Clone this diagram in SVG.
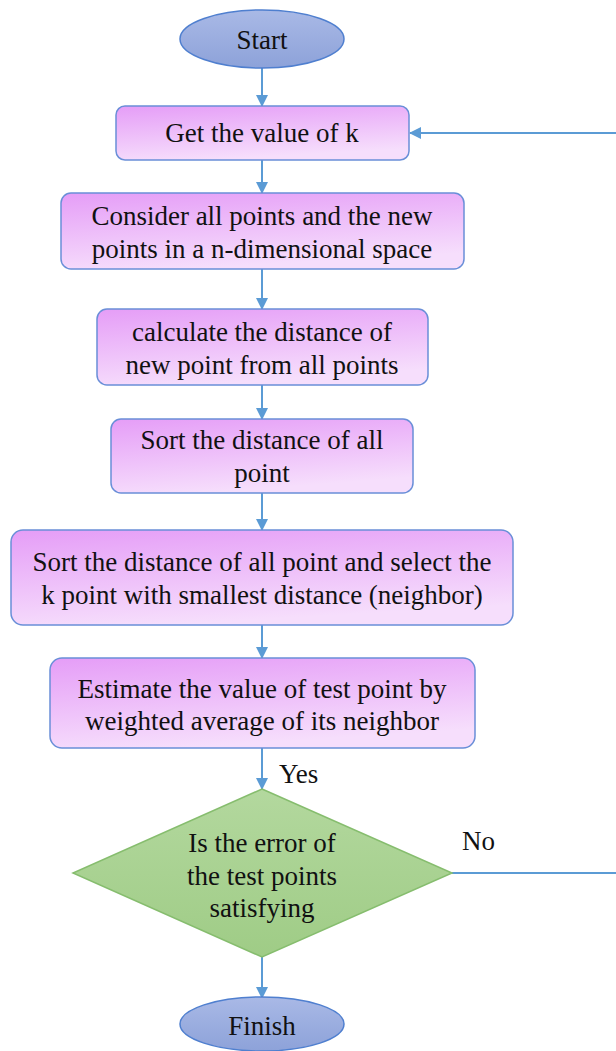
<svg xmlns="http://www.w3.org/2000/svg" width="616" height="1051" viewBox="0 0 616 1051">
<defs>
<linearGradient id="gBox" x1="0" y1="0" x2="0.3" y2="1">
<stop offset="0" stop-color="#e59df7"/>
<stop offset="1" stop-color="#f6defc"/>
</linearGradient>
<linearGradient id="gEll" x1="0" y1="0" x2="0" y2="1">
<stop offset="0" stop-color="#a9b9e6"/>
<stop offset="1" stop-color="#8da2d9"/>
</linearGradient>
<linearGradient id="gDia" x1="0" y1="0" x2="0" y2="1">
<stop offset="0" stop-color="#b3d89e"/>
<stop offset="1" stop-color="#9fcc86"/>
</linearGradient>
<marker id="arr" markerWidth="12" markerHeight="12" refX="11" refY="6" orient="auto" markerUnits="userSpaceOnUse">
<path d="M0,0 L12,6 L0,12 z" fill="#5b9bd5"/>
</marker>
</defs>
<style>
.box{fill:url(#gBox);stroke:#6a8fd8;stroke-width:1.5}
.ell{fill:url(#gEll);stroke:#4f7fcf;stroke-width:1.5}
.dia{fill:url(#gDia);stroke:#86bd6e;stroke-width:1.5}
.c{fill:none;stroke:#5b9bd5;stroke-width:2}
.t{font-family:'Liberation Serif','Times New Roman',serif;font-size:27px;fill:#111;text-anchor:middle}
.lbl{text-anchor:start}
</style>
<g id="connectors">
<line class="c" x1="262" y1="68" x2="262" y2="106" marker-end="url(#arr)"/>
<line class="c" x1="262" y1="160" x2="262" y2="193" marker-end="url(#arr)"/>
<line class="c" x1="262" y1="269" x2="262" y2="309" marker-end="url(#arr)"/>
<line class="c" x1="262" y1="385" x2="262" y2="419" marker-end="url(#arr)"/>
<line class="c" x1="262" y1="493" x2="262" y2="530" marker-end="url(#arr)"/>
<line class="c" x1="262" y1="625" x2="262" y2="658" marker-end="url(#arr)"/>
<line class="c" x1="262" y1="748" x2="262" y2="789" marker-end="url(#arr)"/>
<line class="c" x1="262" y1="957" x2="262" y2="998" marker-end="url(#arr)"/>
<path class="c" d="M452,873 H625 V133 H410" marker-end="url(#arr)"/>
<text class="t lbl" x="279" y="783">Yes</text>
<text class="t lbl" x="462" y="850">No</text>
</g>
<g id="start">
<ellipse class="ell" cx="262" cy="39" rx="82" ry="29"/>
<text class="t" x="262" y="49">Start</text>
</g>
<g id="getk">
<rect class="box" x="116" y="106" width="293" height="54" rx="9"/>
<text class="t" x="262" y="142">Get the value of k</text>
</g>
<g id="consider">
<rect class="box" x="61" y="193" width="403" height="76" rx="10"/>
<text class="t" x="262" y="225">Consider all points and the new</text>
<text class="t" x="262" y="258">points in a n-dimensional space</text>
</g>
<g id="calc">
<rect class="box" x="97" y="309" width="331" height="76" rx="10"/>
<text class="t" x="262" y="341">calculate the distance of</text>
<text class="t" x="262" y="374">new point from all points</text>
</g>
<g id="sort1">
<rect class="box" x="111" y="419" width="302" height="74" rx="10"/>
<text class="t" x="262" y="449">Sort the distance of all</text>
<text class="t" x="262" y="482">point</text>
</g>
<g id="sort2">
<rect class="box" x="11" y="530" width="502" height="95" rx="12"/>
<text class="t" x="262" y="571">Sort the distance of all point and select the</text>
<text class="t" x="262" y="604">k point with smallest distance (neighbor)</text>
</g>
<g id="estimate">
<rect class="box" x="50" y="658" width="425" height="90" rx="12"/>
<text class="t" x="262" y="698">Estimate the value of test point by</text>
<text class="t" x="262" y="730">weighted average of its neighbor</text>
</g>
<g id="decision">
<polygon class="dia" points="262,789 452,873 262,957 73,873"/>
<text class="t" x="262" y="852">Is the error of</text>
<text class="t" x="262" y="885">the test points</text>
<text class="t" x="262" y="917">satisfying</text>
</g>
<g id="finish">
<ellipse class="ell" cx="262" cy="1024" rx="82" ry="27"/>
<text class="t" x="262" y="1035">Finish</text>
</g>
</svg>
